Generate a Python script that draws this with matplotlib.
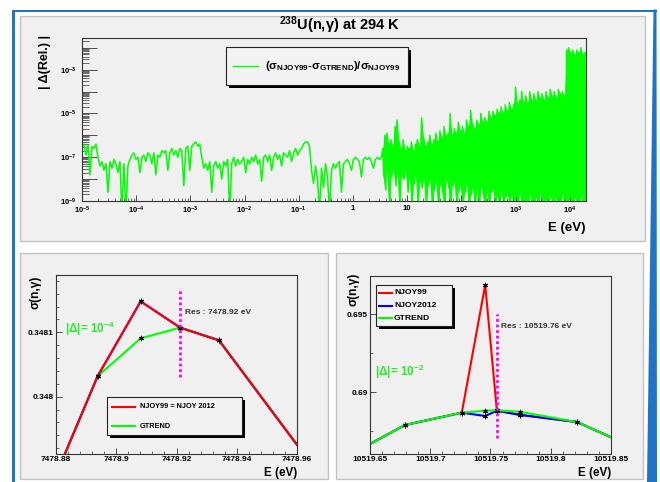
import numpy as np
import matplotlib
matplotlib.use("Agg")
import matplotlib.pyplot as plt
from matplotlib.patches import Rectangle, Polygon
from matplotlib.ticker import FixedLocator, MultipleLocator, NullFormatter

plt.rcParams['font.family'] = ['Liberation Sans', 'DejaVu Sans']
plt.rcParams['font.weight'] = 'bold'
plt.rcParams['mathtext.fontset'] = 'custom'
plt.rcParams['mathtext.rm'] = 'Liberation Sans:bold'
plt.rcParams['mathtext.it'] = 'Liberation Sans:bold:italic'
plt.rcParams['mathtext.bf'] = 'Liberation Sans:bold'

# ---- top panel: |relative difference| vs energy (log10 values)
# low-energy part, evenly spaced in log10(E) from 1e-5 eV to ~3.3 eV
quiet_log_delta = [
    -6.5, -6.4, -6.9, -6.45, -7.8, -6.5, -6.6, -6.4, -7.0,
    -7.4, -7.2, -7.6, -7.3, -8.6, -7.2, -7.5, -7.1, -7.3, -7.7, -7.2, -9.5, -7.3, -9.5, -7.4, -7.1,
    -6.9, -6.8, -7.1, -7.0, -7.7, -7.0, -6.9, -7.2, -6.8, -6.9, -7.3, -6.8, -7.8, -6.9, -7.0, -6.7,
    -6.8, -6.7, -7.6, -6.8, -6.6, -6.9, -6.7, -7.0, -6.6, -6.7, -8.3, -6.6, -6.5, -7.6, -6.5, -6.4, -6.3, -6.5,
    -6.4, -7.0, -7.5, -7.3, -7.6, -7.2, -8.6, -7.4, -7.2, -7.5, -7.3, -8.0, -7.2, -7.4, -7.1, -9.5, -7.3, -7.0,
    -7.4, -7.1, -7.3,
    -7.2, -7.0, -7.7, -7.1, -7.3, -7.0, -7.2, -6.9, -7.3, -7.1, -8.1, -7.0, -6.9, -7.2, -6.9, -7.6, -7.0,
    -6.8, -7.1, -6.9, -7.4, -6.8, -6.9, -7.0, -6.7, -7.2, -6.8, -6.6, -6.9, -6.7, -6.6, -6.4, -6.3,
    -6.3, -6.5,
    -7.6, -8.2, -7.4, -8.0, -9.5, -7.5, -8.4, -7.3, -7.9, -9.5, -7.6, -7.3, -7.5,
    -7.3, -7.2, -8.6, -7.3, -7.2, -7.1, -7.3, -7.6, -7.1, -7.0, -7.1, -7.2, -7.9, -7.1, -7.0, -7.1, -7.0,
    -7.2, -7.5, -7.1, -7.0, -7.1, -7.0,
]
quiet_log_e = (-5.0, 0.525)

# resonance region (3.5 eV .. 20 keV): upper and lower excursions of the dense trace
dense_top = [
    -6.6, -6.0, -5.9, -6.4, -6.2, -6.5, -5.6, -5.3, -6.3, -6.6, -6.2, -6.7, -6.5,
    -6.6, -6.3, -6.7, -6.4, -6.2, -6.5, -5.2, -6.1, -6.5, -6.3, -6.0, -6.4, -6.2, -5.9, -6.3, -5.8, -6.1,
    -5.6, -6.0, -5.9, -5.0, -6.0, -5.7, -5.9, -5.4, -5.8, -5.6, -5.9, -5.3, -5.6, -4.85, -5.5, -5.7, -5.3,
    -5.5, -5.0, -5.4,
    -5.2, -5.4, -4.9, -5.2, -4.9, -5.1, -4.8, -5.0, -4.7, -5.0, -4.6, -4.9, -4.5, -4.8, -4.6, -3.8, -4.6,
    -4.4, -4.0, -4.5,
    -4.2, -4.5, -4.0, -4.4, -4.1, -4.4, -4.0, -4.3, -4.1, -4.4, -4.0, -4.3, -3.9, -4.2, -4.0, -4.3, -3.9,
    -4.1, -4.0, -4.2,
    -2.1, -2.0, -2.2, -2.1, -2.3, -2.1, -2.2, -2.0, -2.3, -2.2,
]
dense_bottom = [
    -7.8, -8.5, -7.6, -9.5, -7.9, -7.5, -8.3, -7.7, -9.5, -7.8, -8.0, -7.6, -8.6,
    -7.9, -9.5, -8.2, -7.8, -9.5, -8.1, -8.4, -7.9, -9.5, -8.3, -8.0, -9.5, -8.5, -8.1, -9.5, -8.2, -8.6,
    -9.5, -8.0, -8.4, -9.5, -8.3, -8.1, -9.5, -8.5,
    -8.3, -9.5, -8.6, -8.2, -9.5, -8.7, -8.4, -9.5, -8.5, -9.5, -8.3, -8.8, -9.5, -8.5, -9.5, -8.6, -8.4,
    -9.5, -8.7, -9.5, -8.5, -9.5, -8.8, -8.6, -9.5, -8.7,
    -9.5, -8.8, -9.5, -8.6, -9.5, -9.5, -8.9, -9.5, -8.7, -9.5, -9.5, -8.8, -9.5, -8.6, -9.5, -9.5, -8.9,
    -9.5, -8.7, -9.5, -9.5, -8.8, -9.5, -9.5, -8.6, -9.5, -9.5, -8.9, -9.5, -9.5, -8.8, -9.5, -9.5, -8.7,
    -9.5, -9.5,
]
dense_log_e = (0.55, 4.30)

top_xticks = [1e-5, 1e-4, 1e-3, 1e-2, 1e-1, 1, 10, 1e2, 1e3, 1e4]
top_xlabels = ['$10^{-5}$', '$10^{-4}$', '$10^{-3}$', '$10^{-2}$', '$10^{-1}$', '1', '10',
               '$10^{2}$', '$10^{3}$', '$10^{4}$']
top_yticks = [1e-9, 1e-8, 1e-7, 1e-6, 1e-5, 1e-4, 1e-3, 1e-2]
top_ylabels = ['$10^{-9}$', '', '$10^{-7}$', '', '$10^{-5}$', '', '$10^{-3}$', '']

# ---- bottom left: resonance at 7478.92 eV
ll_e = [7478.878, 7478.8938, 7478.9081, 7478.9212, 7478.9341, 7478.965]
ll_njoy99 = [0.347856, 0.3480317, 0.348148, 0.3481073, 0.3480875, 0.347894]
ll_njoy2012 = [0.347856, 0.3480317, 0.348148, 0.3481073, 0.3480875, 0.347894]
ll_gtrend = [0.347856, 0.3480317, 0.3480906, 0.3481073, 0.3480875, 0.347894]
ll_xticks = [7478.88, 7478.90, 7478.92, 7478.94, 7478.96]
ll_xlabels = ['7478.88', '7478.9', '7478.92', '7478.94', '7478.96']
ll_yticks = [0.348, 0.3481]
ll_ylabels = ['0.348', '0.3481']
ll_res = 7478.9212

# ---- bottom right: resonance at 10519.76 eV
lr_e = [10519.63, 10519.6791, 10519.7262, 10519.7456, 10519.7553, 10519.7746, 10519.8217, 10519.87]
lr_njoy99 = [0.685853, 0.687904, 0.688694, 0.696878, 0.68882, 0.68855, 0.688096, 0.68643]
lr_njoy2012 = [0.685853, 0.687904, 0.688694, 0.688481, 0.68882, 0.68855, 0.688096, 0.68643]
lr_gtrend = [0.685853, 0.687904, 0.688694, 0.688821, 0.68885, 0.68875, 0.688096, 0.68643]
lr_xticks = [10519.65, 10519.70, 10519.75, 10519.80, 10519.85]
lr_xlabels = ['10519.65', '10519.7', '10519.75', '10519.8', '10519.85']
lr_yticks = [0.69, 0.695]
lr_ylabels = ['0.69', '0.695']
lr_res = 10519.7553

W, H = 660, 482
fig = plt.figure(figsize=(W / 100, H / 100), dpi=100)
fig.patch.set_facecolor('white')


def box(x0, y0, x1, y1):
    return [x0 / W, 1 - y1 / H, (x1 - x0) / W, (y1 - y0) / H]


def pixel_axes():
    a = fig.add_axes([0, 0, 1, 1])
    a.set_xlim(0, W)
    a.set_ylim(H, 0)
    a.axis('off')
    return a


bg = pixel_axes()
blue = '#1f74c8'
bg.add_patch(Rectangle((12, 9.5), 3, 480, fc=blue, ec='none'))
bg.add_patch(Rectangle((12, 9.5), 645, 2.2, fc=blue, ec='none'))
bg.add_patch(Polygon([(653.5, 9.5), (656.5, 9.5), (657, 482), (647, 482)], fc=blue, ec='none'))
for x0, y0, x1, y1 in [(20, 16, 645, 241), (20, 253, 328, 479), (336, 253, 643, 479)]:
    bg.add_patch(Rectangle((x0, y0), x1 - x0, y1 - y0, fc='#f0f0f0', ec='#c2c2c2', lw=1.0))

spine_col = '#333333'
green = '#00ff00'


def style(ax):
    ax.set_facecolor('none')
    for s in ax.spines.values():
        s.set_color(spine_col)
        s.set_linewidth(0.8)


# ---- top plot
ax1 = fig.add_axes(box(82, 38, 586, 201))
style(ax1)
le_q = np.linspace(quiet_log_e[0], quiet_log_e[1], len(quiet_log_delta))
dense = np.empty(len(dense_top) + len(dense_bottom))
dense[0::2] = dense_top
dense[1::2] = dense_bottom
le_d = np.linspace(dense_log_e[0], dense_log_e[1], len(dense))
log_e = np.concatenate([le_q, le_d])
log_d = np.concatenate([quiet_log_delta, dense])
ax1.fill_between(10 ** le_d[0::2], 10 ** np.array(dense_bottom), 10 ** np.array(dense_top),
                 color=green, lw=0)
ax1.plot(10 ** log_e, 10 ** log_d, color=green, lw=1.1)
ax1.set_xscale('log')
ax1.set_yscale('log')
ax1.set_xlim(1e-5, 2e4)
ax1.set_ylim(1e-9, 10 ** -1.55)
ax1.xaxis.set_major_locator(FixedLocator(top_xticks))
ax1.set_xticklabels(top_xlabels)
ax1.yaxis.set_major_locator(FixedLocator(top_yticks))
ax1.set_yticklabels(top_ylabels)
minor_x = [m * 10.0 ** d for d in range(-5, 5) for m in range(2, 10)]
minor_y = [m * 10.0 ** d for d in range(-9, -1) for m in range(2, 10)]
ax1.xaxis.set_minor_locator(FixedLocator(minor_x))
ax1.yaxis.set_minor_locator(FixedLocator(minor_y))
ax1.xaxis.set_minor_formatter(NullFormatter())
ax1.yaxis.set_minor_formatter(NullFormatter())
ax1.tick_params(which='both', direction='in', top=False, right=False, colors=spine_col,
                labelcolor='black', labelsize=5.5)
ax1.tick_params(axis='y', which='major', length=10.5, width=0.6, pad=4)
ax1.tick_params(axis='y', which='minor', length=5, width=0.5)
ax1.tick_params(axis='x', which='major', length=4.3, width=0.6, pad=3)
ax1.tick_params(axis='x', which='minor', length=2.2, width=0.5)


def small_plot(rect, e, series, xlim, ylim, xticks, xlabels, yticks, ylabels, xminor, yminor):
    ax = fig.add_axes(box(*rect))
    style(ax)
    for vals, col in series:
        ax.plot(e, vals, color=col, lw=1.5, marker=(6, 2, 0), ms=3.8, mec='black', mew=0.7)
    ax.set_xlim(*xlim)
    ax.set_ylim(*ylim)
    ax.set_xticks(xticks)
    ax.set_xticklabels(xlabels)
    ax.set_yticks(yticks)
    ax.set_yticklabels(ylabels)
    ax.xaxis.set_minor_locator(MultipleLocator(xminor))
    ax.yaxis.set_minor_locator(MultipleLocator(yminor))
    ax.tick_params(which='both', direction='in', top=False, right=False, colors=spine_col,
                   labelcolor='black', labelsize=6.0, pad=1.5)
    ax.tick_params(which='major', length=4.5, width=0.6)
    ax.tick_params(which='minor', length=2.5, width=0.5)
    return ax


ax2 = small_plot((56, 275, 297, 454), ll_e,
                 [(ll_gtrend, green), (ll_njoy2012, '#0000ff'), (ll_njoy99, '#ff0000')],
                 (7478.88, 7478.96), (0.347911, 0.348189),
                 ll_xticks, ll_xlabels, ll_yticks, ll_ylabels, 0.004, 0.00002)
ax2.plot([ll_res, ll_res], [0.3480308, 0.3481683], color='#ff00ff', lw=2, ls=(0, (1, 1)))

ax3 = small_plot((370, 276, 611, 454), lr_e,
                 [(lr_njoy99, '#ff0000'), (lr_njoy2012, '#0000ff'), (lr_gtrend, green)],
                 (10519.65, 10519.85), (0.686045, 0.697455),
                 lr_xticks, lr_xlabels, lr_yticks, lr_ylabels, 0.01, 0.0025)
ax3.plot([lr_res, lr_res], [0.687071, 0.69502], color='#ff00ff', lw=2, ls=(0, (1, 1)))

# ---- texts and legends (pixel coordinates)
fg = pixel_axes()


def legend(x0, y0, x1, y1, items, fs, lx0, lx1, tx, lw):
    fg.add_patch(Rectangle((x0 + 3, y0 + 3), x1 - x0, y1 - y0, fc='black', ec='none'))
    fg.add_patch(Rectangle((x0, y0), x1 - x0, y1 - y0, fc='#f3f3f3', ec='#222222', lw=0.8))
    for label, col, y in items:
        fg.plot([lx0, lx1], [y, y], color=col, lw=lw)
        fg.text(tx, y, label, fontsize=fs, ha='left', va='center')


fg.text(340, 25, '$^{238}$U(n,γ) at 294 K', fontsize=10.5, ha='center', va='center')
fg.text(45, 62, '| Δ(Rel.) |', fontsize=9, rotation=90, ha='center', va='center')
fg.text(586, 228, 'E (eV)', fontsize=9.5, ha='right', va='center')
legend(226, 47, 408, 85,
       [(r'(σ$_{\mathrm{NJOY99}}$-σ$_{\mathrm{GTREND}}$)/σ$_{\mathrm{NJOY99}}$', green, 66)],
       8.2, 233, 258, 265, 1.0)

fg.text(36, 292, 'σ(n,γ)', fontsize=8.6, rotation=90, ha='center', va='center')
fg.text(297, 473, 'E (eV)', fontsize=8.4, ha='right', va='center')
fg.text(185, 312, 'Res : 7478.92 eV', fontsize=6, color='#333333', ha='left', va='center')
fg.text(65, 329, '|Δ|= 10$^{-4}$', fontsize=8.5, color='#2ee82e', ha='left', va='center')
legend(107, 397, 242, 435,
       [('NJOY99 = NJOY 2012', '#ff0000', 407), ('GTREND', green, 426)],
       5.3, 112, 135, 140, 1.5)

fg.text(354, 289, 'σ(n,γ)', fontsize=8.6, rotation=90, ha='center', va='center')
fg.text(611, 473, 'E (eV)', fontsize=8.4, ha='right', va='center')
fg.text(501, 327, 'Res : 10519.76 eV', fontsize=6, color='#333333', ha='left', va='center')
fg.text(375, 372, '|Δ|= 10$^{-2}$', fontsize=8.5, color='#2ee82e', ha='left', va='center')
legend(376, 285, 452, 326,
       [('NJOY99', '#ff0000', 293), ('NJOY2012', '#0000ff', 305.5), ('GTREND', green, 318)],
       6.1, 379, 392, 394, 1.5)

fig.savefig('out.png', dpi=100)
